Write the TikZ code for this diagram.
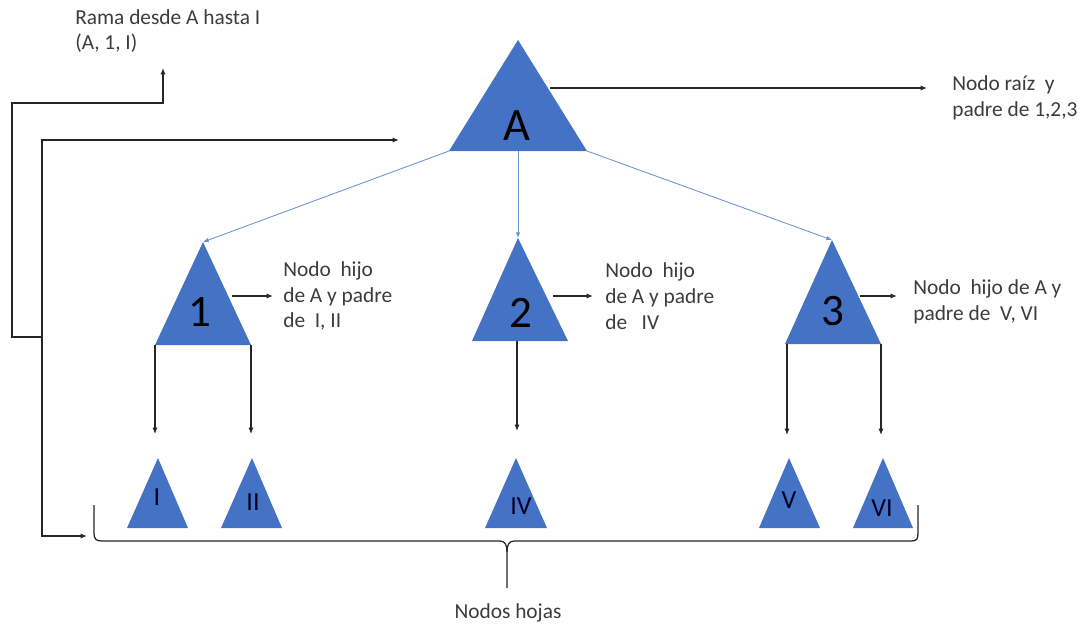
\documentclass[tikz,border=0pt]{standalone}
\usepackage{fontspec}
\setmainfont{Carlito}
\usetikzlibrary{arrows.meta}
\definecolor{triblue}{HTML}{4472C4}
\definecolor{linkblue}{HTML}{6A8FD3}
\definecolor{txt}{HTML}{3C3C3C}
\begin{document}
\begin{tikzpicture}[x=0.025cm,y=-0.025cm,
  tri/.style={fill=triblue},
  conn/.style={draw=black!85, line width=0.9pt, -{Latex[length=1.6mm,width=1.3mm]}},
  dconn/.style={draw=black!85, line width=0.9pt, {Latex[length=1.6mm,width=1.3mm]}-{Latex[length=1.6mm,width=1.3mm]}},
  plain/.style={draw=black!85, line width=0.9pt},
  link/.style={draw=linkblue, line width=0.6pt, -{Latex[length=1.4mm,width=1.1mm]}},
  note/.style={font=\fontsize{15.2pt}{18.4pt}\selectfont, text=txt, align=left, anchor=west, inner sep=0pt},
  big/.style={font=\fontsize{33pt}{33pt}\selectfont, text=black, inner sep=0pt},
  small/.style={font=\fontsize{18.5pt}{18.5pt}\selectfont, text=black!85!blue, inner sep=0pt}]
\useasboundingbox (0,0) rectangle (1086,626);

% --- root A
\coordinate (At) at (518,40); \coordinate (Al) at (449,151);
\coordinate (Ar) at (587,151); \coordinate (Am) at (518,151);
\fill[tri] (At)--(Al)--(Ar)--cycle;
\node[big] (A) at (517,126) {A};

% --- children
\coordinate (c1t) at (203,242); \coordinate (c1l) at (155,345); \coordinate (c1r) at (251,345);
\fill[tri] (c1t)--(c1l)--(c1r)--cycle;
\node[big, font=\fontsize{32pt}{32pt}\selectfont] (n1) at (200,312) {1};
\coordinate (c2t) at (518,238); \coordinate (c2l) at (472,341); \coordinate (c2r) at (568,341);
\fill[tri] (c2t)--(c2l)--(c2r)--cycle;
\coordinate (c2m) at (517,341);
\node[big, font=\fontsize{32pt}{32pt}\selectfont] (n2) at (521,313) {2};
\coordinate (c3t) at (832,240); \coordinate (c3l) at (785,344); \coordinate (c3r) at (881,344);
\fill[tri] (c3t)--(c3l)--(c3r)--cycle;
\coordinate (c3a) at (787,344);
\node[big, font=\fontsize{32pt}{32pt}\selectfont] (n3) at (833,311) {3};

% --- leaves
\fill[tri] (158,458)--(127,528)--(188,528)--cycle;
\node[small] (lI) at (157,497) {I};
\fill[tri] (252,458)--(221,528)--(282,528)--cycle;
\node[small] (lII) at (253,502) {II};
\fill[tri] (516,458)--(485,528)--(547,528)--cycle;
\node[small] (lIV) at (521,506) {IV};
\fill[tri] (789,458)--(759,528)--(820,528)--cycle;
\node[small] (lV) at (789,500) {V};
\fill[tri] (883,458)--(853,528)--(913,528)--cycle;
\node[small] (lVI) at (882,508) {VI};

% --- texts
\node[note] (tR) at (75,31) {Rama desde A hasta I\\(A, 1, I)};
\node[note] (tA) at (952,98) {Nodo raíz\ \ y\\padre de 1,2,3};
\node[note] (t1) at (283,296) {Nodo\ \ hijo\\de A y padre\\de\ \ I, II};
\node[note] (t2) at (605,296) {Nodo\ \ hijo\\de A y padre\\de\ \ \ IV};
\node[note] (t3) at (913,302) {Nodo\ \ hijo de A y\\padre de\ \ V, VI};
\node[note, anchor=center] (tH) at (508,613) {Nodos hojas};

% --- blue links A -> children
\draw[link] (Al) -- (c1t);
\draw[link] (Am) -- (c2t);
\draw[link] (Ar) -- (c3t);

% --- side arrows to texts
\coordinate (sA) at (550,88); \coordinate (eA) at (927,88);
\draw[conn] (sA) -- (eA);
\coordinate (s1) at (232,296); \coordinate (e1) at (273,296);
\draw[conn] (s1) -- (e1);
\coordinate (s2) at (553,296); \coordinate (e2) at (593,296);
\draw[conn] (s2) -- (e2);
\coordinate (s3) at (860,296); \coordinate (e3) at (897,296);
\draw[conn] (s3) -- (e3);

% --- vertical arrows to leaves
\coordinate (d1) at (155,434); \coordinate (d2) at (251,434);
\coordinate (d4) at (517,431); \coordinate (d5) at (787,435); \coordinate (d6) at (881,435);
\draw[conn] (c1l) -- (d1);
\draw[conn] (c1r) -- (d2);
\draw[conn] (c2m) -- (d4);
\draw[conn] (c3a) -- (d5);
\draw[conn] (c3r) -- (d6);

% --- left branch connectors
\coordinate (j1) at (42,337); \coordinate (bR) at (163,68);
\draw[conn] (j1) -- (12,337) -- (12,103) -- (163,103) -- (bR);
\coordinate (bL) at (87,536); \coordinate (bA) at (399,140);
\draw[dconn] (bL) -- (42,536) -- (42,140) -- (bA);

% --- brace under the leaves
\draw[plain] (94,505) -- (94,533) .. controls (94,539) and (96,541) .. (102,541)
  -- (500,541) .. controls (505,541) and (507,545) .. (507,552) -- (507,588);
\draw[plain] (507,552) .. controls (507,545) and (509,541) .. (514,541)
  -- (911,541) .. controls (917,541) and (918,539) .. (918,533) -- (918,505);
\end{tikzpicture}
\end{document}
